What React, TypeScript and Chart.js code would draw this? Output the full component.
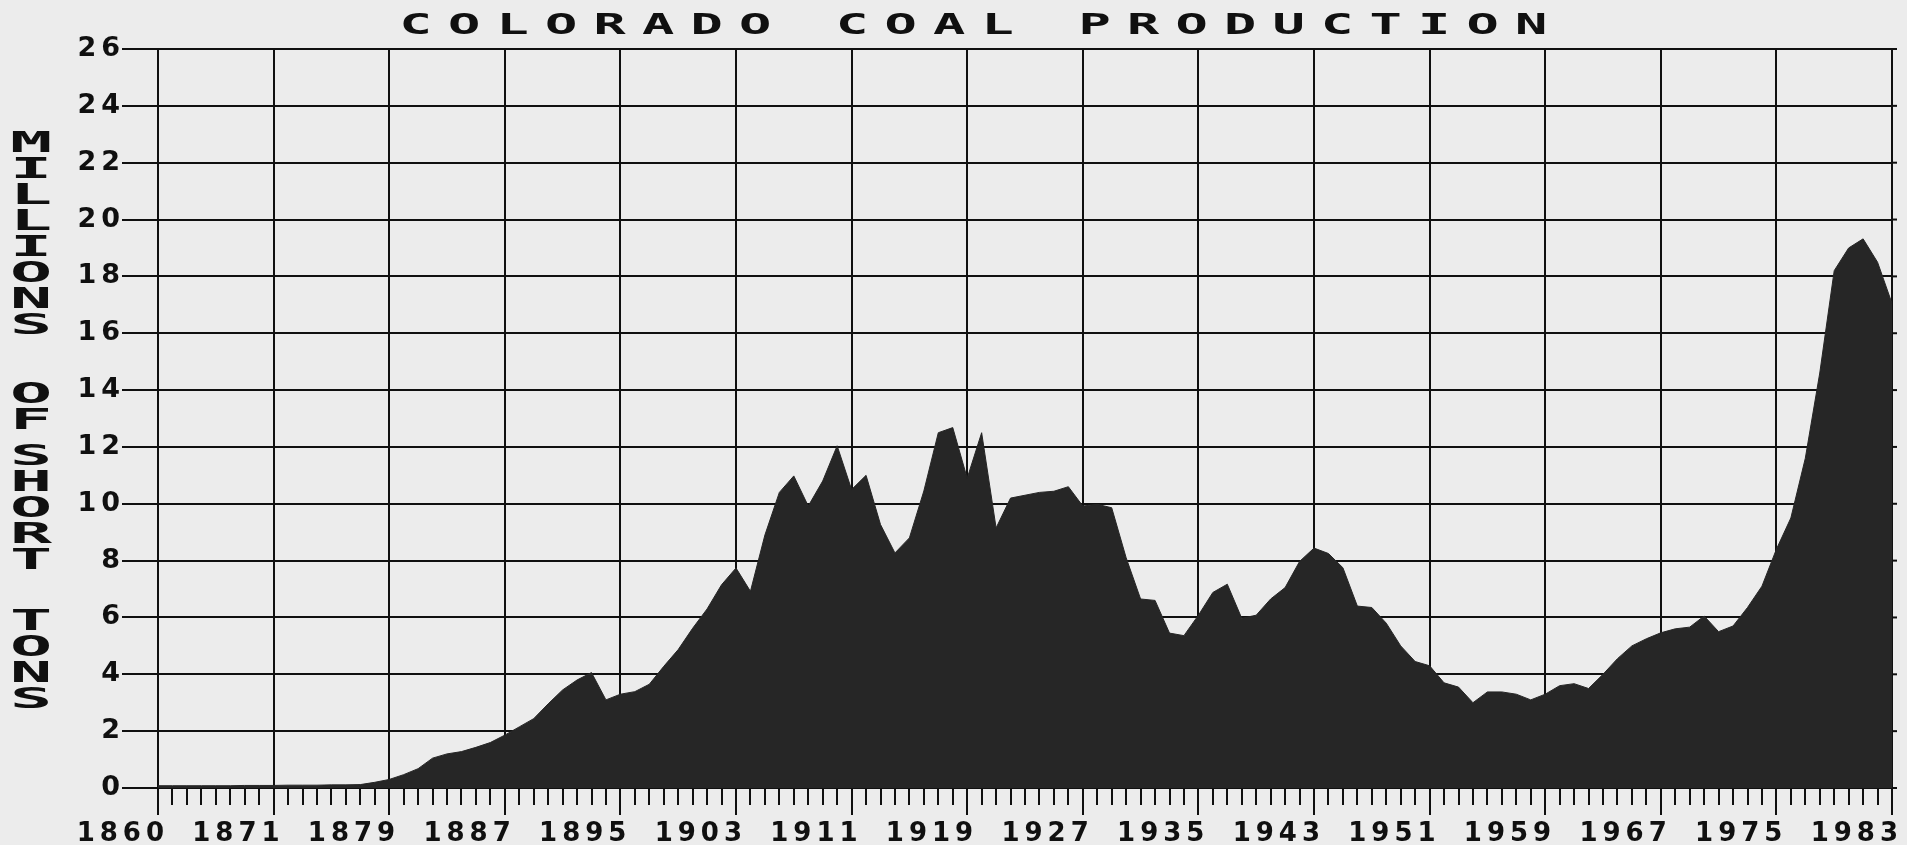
import React, { useEffect, useRef } from 'react';
import { Chart, registerables } from 'chart.js';

Chart.register(...registerables);

// ---- data ----
const FIRST_YEAR = 1863;
const LAST_YEAR = 1983;
const YEARS: string[] = [];
for (let y = FIRST_YEAR; y <= LAST_YEAR; y++) YEARS.push(String(y));

const TICK_LABELS = [
  '1860', '1871', '1879', '1887', '1895', '1903', '1911', '1919',
  '1927', '1935', '1943', '1951', '1959', '1967', '1975', '1983',
];

// millions of short tons, one value per year
const PRODUCTION = [
  0.08, 0.08, 0.08, 0.08, 0.08, 0.08, 0.09, 0.09,
  0.09, 0.1, 0.1, 0.1, 0.11, 0.11, 0.12, 0.2,
  0.3, 0.47, 0.68, 1.05, 1.2, 1.28, 1.43, 1.6,
  1.86, 2.15, 2.44, 2.96, 3.45, 3.8, 4.06, 3.1,
  3.3, 3.39, 3.65, 4.28, 4.87, 5.62, 6.3, 7.15,
  7.74, 6.92, 8.9, 10.4, 10.98, 9.92, 10.8, 12.04,
  10.5, 11.0, 9.27, 8.27, 8.8, 10.45, 12.5, 12.68,
  10.9, 12.5, 9.15, 10.2, 10.3, 10.4, 10.44, 10.6,
  9.92, 9.98, 9.86, 8.1, 6.65, 6.6, 5.45, 5.36,
  6.08, 6.88, 7.17, 5.97, 6.08, 6.65, 7.05, 7.97,
  8.44, 8.25, 7.75, 6.4, 6.35, 5.8, 5.0, 4.45,
  4.3, 3.7, 3.55, 3.0, 3.38, 3.38, 3.3, 3.1,
  3.3, 3.6, 3.67, 3.5, 4.0, 4.55, 5.0, 5.25,
  5.46, 5.6, 5.66, 6.05, 5.5, 5.7, 6.35, 7.1,
  8.4, 9.5, 11.6, 14.6, 18.2, 19.0, 19.32, 18.5,
  17.05,
];

const Y_MIN = 0;
const Y_MAX = 26;
const Y_STEP = 2;

const TITLE = 'COLORADO COAL PRODUCTION';
const Y_TITLE_WORDS = ['MILLIONS', 'OF', 'SHORT', 'TONS'];

// ---- styles ----
const INK = '#101010';
const FILL = '#262626';
const PAPER = '#ececec';
const MAJOR_EVERY = 8;
const TICK_SPACING = '5px';

const decorPlugin = {
  id: 'decor',
  beforeUpdate(chart: any) {
    chart.ctx.letterSpacing = TICK_SPACING;
  },
  beforeDraw(chart: any) {
    chart.ctx.letterSpacing = TICK_SPACING;
  },
  afterDraw(chart: any) {
    const ctx = chart.ctx as CanvasRenderingContext2D & { letterSpacing: string };
    const xs = chart.scales.x;
    const ys = chart.scales.y;
    const area = chart.chartArea;
    ctx.save();
    ctx.letterSpacing = '0px';

    ctx.strokeStyle = INK;
    ctx.lineWidth = 2;
    // minor tick marks on the x axis
    for (let i = 0; i < YEARS.length; i++) {
      if (i % MAJOR_EVERY === 0) continue;
      const px = Math.round(xs.getPixelForValue(i));
      ctx.beginPath();
      ctx.moveTo(px, area.bottom);
      ctx.lineTo(px, area.bottom + 17);
      ctx.stroke();
    }
    // short overhang of horizontal grid lines past the right edge
    for (let v = Y_MIN; v <= Y_MAX; v += Y_STEP) {
      const py = ys.getPixelForValue(v);
      ctx.beginPath();
      ctx.moveTo(area.right, py);
      ctx.lineTo(area.right + 5, py);
      ctx.stroke();
    }

    // title: wide spaced letters
    ctx.fillStyle = INK;
    ctx.font = 'bold 29px "DejaVu Sans Mono"';
    ctx.textAlign = 'center';
    ctx.textBaseline = 'alphabetic';
    const pitch = 48.5;
    const center = area.left + (area.right - area.left) * 0.4702;
    const first = center - ((TITLE.length - 1) / 2) * pitch;
    for (let k = 0; k < TITLE.length; k++) {
      const ch = TITLE[k];
      if (ch === ' ') continue;
      ctx.save();
      ctx.translate(first + k * pitch, 34);
      ctx.scale(1.85, 1);
      ctx.fillText(ch, 0, 0);
      ctx.restore();
    }

    // vertical stacked y-axis title
    ctx.font = 'bold 28px "DejaVu Sans Mono"';
    const letterPitch = 26;
    const wordStarts = [142, 393, 455, 620];
    Y_TITLE_WORDS.forEach((word, w) => {
      for (let k = 0; k < word.length; k++) {
        const cy = wordStarts[w] + k * letterPitch;
        ctx.save();
        ctx.translate(31, cy + 10);
        ctx.scale(2.5, 1);
        ctx.fillText(word[k], 0, 0);
        ctx.restore();
      }
    });
    ctx.restore();
  },
};

export default function App() {
  const ref = useRef<HTMLCanvasElement | null>(null);

  useEffect(() => {
    if (!ref.current) return;
    const tickFont = { family: '"DejaVu Sans"', weight: 'bold' as const, size: 26 };
    const chart = new Chart(ref.current, {
      type: 'line',
      data: {
        labels: YEARS,
        datasets: [
          {
            data: PRODUCTION,
            fill: 'origin',
            backgroundColor: FILL,
            borderColor: FILL,
            borderWidth: 1,
            pointRadius: 0,
            tension: 0,
          },
        ],
      },
      options: {
        animation: false,
        responsive: false,
        maintainAspectRatio: false,
        layout: { padding: { top: 49, right: 15, bottom: 0, left: 0 } },
        plugins: {
          legend: { display: false },
          tooltip: { enabled: false },
          title: { display: false },
        },
        scales: {
          x: {
            type: 'category',
            offset: false,
            grid: {
              color: (c: any) => (c.index % MAJOR_EVERY === 0 ? INK : 'rgba(0,0,0,0)'),
              tickColor: (c: any) => (c.index % MAJOR_EVERY === 0 ? INK : 'rgba(0,0,0,0)'),
              lineWidth: 2,
              tickLength: 27,
            },
            border: { display: true, color: INK, width: 2 },
            ticks: {
              autoSkip: false,
              maxRotation: 0,
              minRotation: 0,
              align: 'end',
              labelOffset: 11,
              padding: 4,
              color: INK,
              font: tickFont,
              callback: (_v: any, i: number) =>
                i % MAJOR_EVERY === 0 ? TICK_LABELS[i / MAJOR_EVERY] : '',
            },
            afterFit: (s: any) => {
              s.height = 57;
            },
          },
          y: {
            min: Y_MIN,
            max: Y_MAX,
            grid: { color: INK, lineWidth: 2, tickLength: 36, tickColor: INK },
            border: { display: true, color: INK, width: 2 },
            ticks: {
              stepSize: Y_STEP,
              padding: -3,
              color: INK,
              font: { ...tickFont, size: 27 },
            },
            afterFit: (s: any) => {
              s.width = 158;
            },
          },
        },
      },
      plugins: [decorPlugin],
    });
    return () => chart.destroy();
  }, []);

  return (
    <div
      style={{
        position: 'absolute',
        left: 0,
        top: 0,
        width: 1907,
        height: 845,
        background: PAPER,
        overflow: 'hidden',
      }}
    >
      <canvas ref={ref} width={1907} height={845} style={{ display: 'block' }} />
    </div>
  );
}
